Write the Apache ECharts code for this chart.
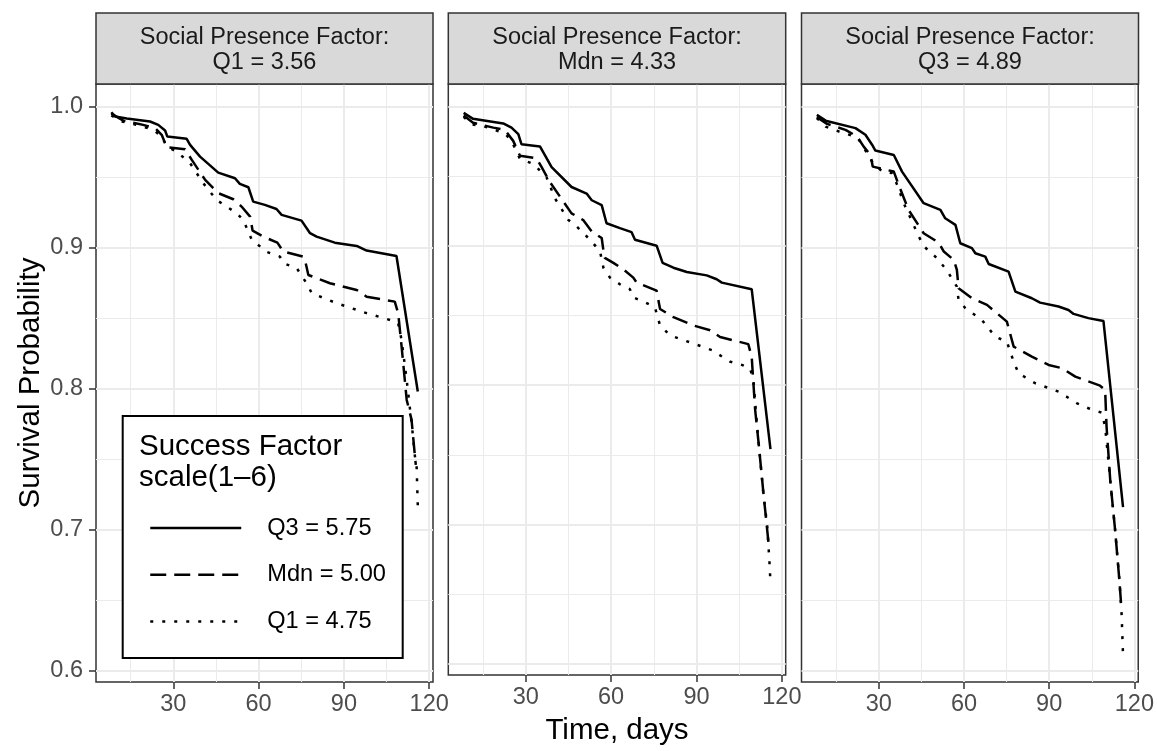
<!DOCTYPE html>
<html><head><meta charset="utf-8">
<script src="https://cdn.jsdelivr.net/npm/echarts@6/dist/echarts.min.js"></script>
<style>html,body{margin:0;padding:0;background:#fff}#c{width:1157px;height:751px}</style>
</head><body><div id="c"></div><script>
const facetLabels = ['Social Presence Factor:\nQ1 = 3.56', 'Social Presence Factor:\nMdn = 4.33', 'Social Presence Factor:\nQ3 = 4.89'];
const seriesNames = ['Q3 = 5.75', 'Mdn = 5.00', 'Q1 = 4.75'];
const legendTitle = 'Success Factor\nscale(1\u20136)';
const xTitle = 'Time, days';
const yTitle = 'Survival Probability';
const xTicks = [30, 60, 90, 120];
const xMinor = [15, 45, 75, 105];
const yTicks = [0.6, 0.7, 0.8, 0.9, 1.0];
const yMinor = [0.65, 0.75, 0.85, 0.95];
const xRange = [2.8, 121.35];
const yRange = [0.592, 1.016];

// Panel 1: Social Presence Q1 = 3.56
const p1Q3 = [[8.2,0.996],[9.5,0.993],[13.6,0.9915],[21.8,0.9894],[24.7,0.987],[27.1,0.983],[27.9,0.9787],[34.7,0.9771],[35.9,0.9728],[39.4,0.9645],[45.8,0.9532],[51.7,0.9492],[53.4,0.9452],[56.4,0.9428],[58.1,0.9326],[62.2,0.9303],[66.3,0.9274],[68.1,0.9232],[75.1,0.9191],[78.1,0.9102],[80.4,0.9078],[86.8,0.9035],[94.5,0.9012],[98.0,0.8979],[108.5,0.894],[116,0.798]];
const p1Mdn = [[8.2,0.995],[12.4,0.990],[19.4,0.987],[23.6,0.9847],[25.9,0.980],[27.7,0.9712],[34.1,0.9698],[36.5,0.9622],[41.2,0.948],[45.8,0.9386],[51.1,0.9343],[54.0,0.9291],[57.0,0.922],[57.9,0.912],[61.6,0.9078],[66.6,0.9035],[68.7,0.8972],[75.7,0.8936],[76.3,0.8913],[77.5,0.8806],[85.1,0.8747],[94.5,0.870],[98.0,0.8652],[107.9,0.8617],[109.1,0.8535],[110.3,0.830],[112.1,0.792],[113.8,0.778],[115.0,0.752],[115.3,0.746]];
const p1Q1 = [[8.2,0.9938],[11.8,0.9894],[15.9,0.9877],[23.0,0.9835],[25.9,0.9787],[27.7,0.9716],[31.2,0.968],[35.9,0.9599],[40.5,0.9457],[45.2,0.9338],[52.3,0.9244],[54.6,0.9196],[57.6,0.9055],[63.0,0.8968],[67.5,0.8936],[68.7,0.889],[73.4,0.8854],[76.9,0.8747],[78.7,0.8677],[87.4,0.8606],[98.0,0.8535],[106.2,0.8487],[109.1,0.8464],[110.3,0.8345],[112.1,0.806],[113.8,0.776],[115.0,0.752],[115.6,0.744],[116,0.717]];

// Panel 2: Social Presence Mdn = 4.33
const p2Q3 = [[8.2,0.9953],[11.5,0.991],[22.1,0.9877],[25.0,0.9847],[27.4,0.980],[28.5,0.9728],[35.0,0.9712],[39.1,0.9563],[46.1,0.9421],[51.4,0.9374],[53.2,0.9326],[56.7,0.9291],[58.4,0.9161],[63.1,0.9126],[67.2,0.9097],[68.4,0.9043],[76.0,0.900],[78.1,0.8877],[81.9,0.8842],[86.6,0.8811],[93.6,0.8787],[97.1,0.8759],[98.9,0.8735],[109.4,0.8688],[116,0.754]];
const p2Mdn = [[8.2,0.9934],[11.5,0.9882],[18.6,0.9847],[22.7,0.983],[25.6,0.9752],[28.0,0.9645],[33.8,0.9627],[35.6,0.9563],[38.5,0.9457],[46.1,0.9232],[50.2,0.9184],[53.2,0.9102],[56.7,0.9055],[57.5,0.8936],[57.8,0.8913],[60.8,0.8877],[64.3,0.883],[67.8,0.8771],[69.0,0.8735],[76.0,0.8677],[77.2,0.8546],[81.9,0.8487],[88.9,0.8428],[94.8,0.8393],[98.3,0.8345],[108.2,0.8294],[109.4,0.8204],[110.6,0.7825],[111.8,0.759],[113.5,0.723],[114.7,0.699],[115.5,0.683]];
const p2Q1 = [[8.2,0.9925],[11.0,0.987],[15.1,0.9858],[22.7,0.9806],[25.0,0.9752],[28.0,0.9622],[32.6,0.9587],[35.0,0.9539],[37.3,0.9492],[40.3,0.9338],[45.0,0.9184],[47.9,0.9138],[52.6,0.9043],[56.1,0.896],[57.3,0.8842],[59.6,0.8771],[63.1,0.8723],[66.6,0.8688],[67.8,0.8629],[71.9,0.8594],[75.4,0.8558],[77.2,0.8428],[80.7,0.8357],[88.9,0.8298],[95.4,0.8251],[101.8,0.8168],[105.9,0.8145],[108.8,0.8121],[110.0,0.8038],[111.2,0.773],[113.5,0.722],[114.8,0.70],[115.6,0.675],[116,0.658]];

// Panel 3: Social Presence Q3 = 4.89
const p3Q3 = [[8.2,0.9941],[11.3,0.990],[21.8,0.9847],[25.3,0.980],[27.7,0.9728],[28.8,0.9688],[35.3,0.9657],[38.2,0.9539],[45.8,0.9315],[51.7,0.9267],[53.4,0.9208],[57.0,0.9161],[58.7,0.9031],[62.8,0.8996],[64.0,0.896],[67.5,0.8936],[68.7,0.8884],[75.7,0.883],[78.1,0.8688],[83.9,0.8641],[86.8,0.861],[93.3,0.8582],[96.8,0.8558],[98.6,0.853],[103.8,0.850],[109.1,0.848],[116,0.716]];
const p3Mdn = [[8.2,0.9925],[11.8,0.9877],[18.3,0.9835],[22.4,0.9787],[24.7,0.9716],[27.1,0.9657],[27.9,0.9574],[35.3,0.9539],[37.0,0.9445],[40.5,0.9267],[45.8,0.9102],[51.1,0.9035],[52.9,0.8972],[56.4,0.8913],[57.5,0.8842],[58.1,0.8712],[62.8,0.8641],[68.1,0.8594],[75.1,0.8475],[77.5,0.8298],[83.9,0.8227],[89.8,0.8168],[94.5,0.8145],[99.2,0.8085],[107.9,0.8021],[109.7,0.7991],[110.2,0.773],[111.5,0.735],[113.2,0.70],[114.7,0.6645],[115.3,0.648]];
const p3Q1 = [[8.2,0.9918],[11.3,0.9858],[16.0,0.9823],[22.4,0.9783],[24.7,0.9712],[27.1,0.9622],[31.2,0.9539],[34.7,0.9528],[36.5,0.9445],[38.8,0.9315],[44.1,0.9078],[46.0,0.9007],[49.9,0.8936],[53.9,0.8842],[57.5,0.8723],[58.1,0.8629],[60.5,0.857],[66.3,0.8487],[71.0,0.8369],[75.1,0.8333],[77.5,0.8191],[79.2,0.8109],[85.1,0.8038],[93.3,0.7979],[99.8,0.7896],[103.8,0.7861],[108.5,0.783],[109.7,0.773],[111.5,0.735],[113.2,0.70],[114.7,0.665],[115.5,0.64],[116,0.611]];

const panels = [[p1Q3, p1Mdn, p1Q1], [p2Q3, p2Mdn, p2Q1], [p3Q3, p3Mdn, p3Q1]];

const FONT = 'Liberation Sans, Arial, Helvetica, sans-serif';
const gridRects = [[96, 337], [448.3, 337.4], [801.5, 337]];
const TOP = 84, HEIGHT = 598;
const lineTypes = ['solid', [16, 8], [3, 9]];

const grids = [], xAxes = [], yAxes = [], series = [], graphics = [];
gridRects.forEach((g, i) => {
  grids.push({left: g[0], top: TOP, width: g[1], height: HEIGHT, show: true,
    borderColor: '#333333', borderWidth: 1.5, backgroundColor: '#ffffff', containLabel: false});
  // major x axis
  xAxes.push({type: 'value', gridIndex: i, min: xRange[0], max: xRange[1],
    axisLine: {show: false},
    axisTick: {show: true, customValues: xTicks, length: 7, lineStyle: {color: '#333333', width: 1.5}},
    axisLabel: {show: true, customValues: xTicks, color: '#4D4D4D', fontSize: 23.5, fontFamily: FONT, margin: 11},
    splitLine: {show: true, lineStyle: {color: '#EBEBEB', width: 2}},
    name: i === 1 ? xTitle : '', nameLocation: 'middle', nameGap: 41,
    nameTextStyle: {fontSize: 29.5, color: '#000000', fontFamily: FONT}});
  // minor x axis
  xAxes.push({type: 'value', gridIndex: i, min: xRange[0], max: xRange[1],
    axisLine: {show: false}, axisTick: {show: false, customValues: xMinor},
    axisLabel: {show: false, customValues: xMinor},
    splitLine: {show: true, lineStyle: {color: '#EBEBEB', width: 1}}});
  yAxes.push({type: 'value', gridIndex: i, min: yRange[0], max: yRange[1],
    axisLine: {show: false},
    axisTick: {show: i === 0, customValues: yTicks, length: 7, lineStyle: {color: '#333333', width: 1.5}},
    axisLabel: {show: i === 0, customValues: yTicks, color: '#4D4D4D', fontSize: 23.5, fontFamily: FONT, margin: 13,
      formatter: v => v.toFixed(1)},
    splitLine: {show: true, lineStyle: {color: '#EBEBEB', width: 2}},
    name: i === 0 ? yTitle : '', nameLocation: 'middle', nameRotate: 90, nameGap: 50,
    nameTextStyle: {fontSize: 29.5, color: '#000000', fontFamily: FONT}});
  yAxes.push({type: 'value', gridIndex: i, min: yRange[0], max: yRange[1],
    axisLine: {show: false}, axisTick: {show: false, customValues: yMinor},
    axisLabel: {show: false, customValues: yMinor},
    splitLine: {show: true, lineStyle: {color: '#EBEBEB', width: 1}}});
  panels[i].forEach((d, k) => {
    series.push({type: 'line', name: seriesNames[k], xAxisIndex: 2 * i, yAxisIndex: 2 * i,
      data: d, symbol: 'none', showSymbol: false, smooth: false, z: 3,
      lineStyle: {color: '#000000', width: 2.5, type: lineTypes[k]},
      itemStyle: {color: '#000000'}, emphasis: {disabled: true}});
  });
  // facet strip
  graphics.push({type: 'rect', z: 5, shape: {x: g[0], y: 13, width: g[1], height: TOP - 13},
    style: {fill: '#D9D9D9', stroke: '#333333', lineWidth: 1.5}});
  graphics.push({type: 'text', z: 6, x: g[0] + g[1] / 2, y: 50,
    style: {text: facetLabels[i], fill: '#1A1A1A', font: '23.5px ' + FONT, lineHeight: 25,
      textAlign: 'center', textVerticalAlign: 'middle'}});
});
// legend box and title
graphics.push({type: 'rect', z: 3, shape: {x: 122.7, y: 416, width: 280, height: 242},
  style: {fill: '#ffffff', stroke: '#000000', lineWidth: 2}});
graphics.push({type: 'text', z: 6, x: 139, y: 462,
  style: {text: legendTitle, fill: '#000000', font: '29.5px ' + FONT, lineHeight: 31,
    textAlign: 'left', textVerticalAlign: 'middle'}});

const chart = echarts.init(document.getElementById('c'), null, {renderer: 'canvas'});
chart.setOption({
  animation: false,
  backgroundColor: '#ffffff',
  grid: grids, xAxis: xAxes, yAxis: yAxes, series: series,
  graphic: graphics,
  legend: {data: seriesNames, orient: 'vertical', left: 149, top: 516, z: 8, padding: 0,
    itemWidth: 91, itemHeight: 24, itemGap: 22.7, selectedMode: false,
    lineStyle: {width: 2.5},
    itemStyle: {opacity: 0, color: 'rgba(0,0,0,0)', borderWidth: 0},
    textStyle: {fontSize: 23.6, color: '#000000', fontFamily: FONT, padding: [0, 0, 0, 21]}}
});
</script></body></html>
